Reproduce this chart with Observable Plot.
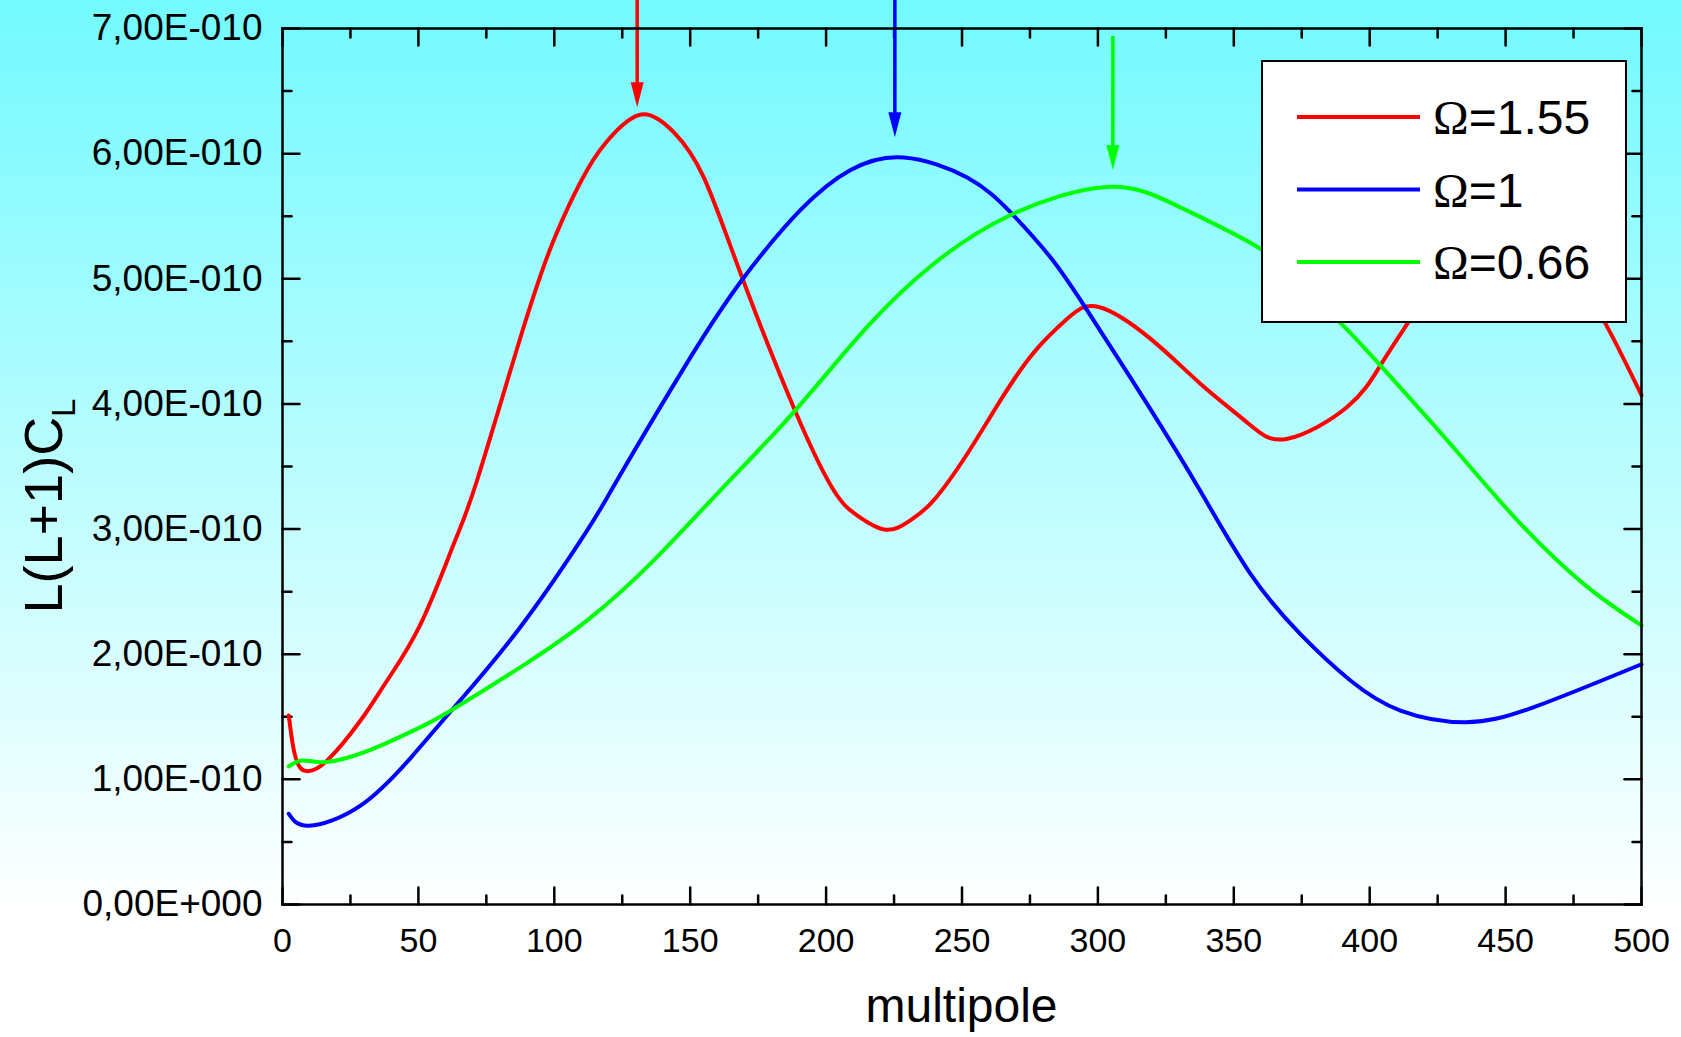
<!DOCTYPE html>
<html>
<head>
<meta charset="utf-8">
<script src="https://cdn.jsdelivr.net/npm/d3@7"></script>
<script src="https://cdn.jsdelivr.net/npm/@observablehq/plot@0.6"></script>
<style>
  html, body { margin: 0; padding: 0; }
  body {
    width: 1681px; height: 1037px; overflow: hidden;
    background: linear-gradient(to bottom, rgb(114,250,255) 0%, #ffffff 88%, #ffffff 100%);
    font-family: "Liberation Sans", Arial, sans-serif;
  }
  #wrap { position: relative; width: 1681px; height: 1037px; }
  #legend {
    position: absolute; left: 1261px; top: 60px; width: 362px; height: 259px;
    background: #fff; border: 2.5px solid #000;
  }
  #legend svg { position: absolute; left: 0; top: 0; }
</style>
</head>
<body>
<div id="wrap"><div id="legend"></div></div>
<script>
// ---- data (y values in units of 1e-10) ----
const UNIT = 1e-10;
const seriesNames = ["Ω=1.55", "Ω=1", "Ω=0.66"];
const seriesColors = ["#ff0000", "#0000ff", "#00ff00"];

const redX = [2.3, 4.2, 6.6, 9.7, 16.4, 28.7, 38.5, 50.8, 63, 71.6, 87.6, 99.8, 112.1, 121.9, 132.7, 144, 155, 169.1, 188.7, 202.8, 211.4, 221.9, 231, 239.6, 251.9, 264.2, 276.4, 288.7, 300.3, 319.4, 337.8, 355, 369.4, 391.7, 404, 413.8, 425, 437, 450, 463, 475, 486.8, 500];
const redY = [1.51, 1.23, 1.09, 1.066, 1.15, 1.47, 1.79, 2.24, 2.88, 3.39, 4.535, 5.31, 5.87, 6.16, 6.315, 6.17, 5.81, 5.01, 3.94, 3.31, 3.11, 2.995, 3.07, 3.23, 3.60, 4.03, 4.41, 4.68, 4.775, 4.52, 4.16, 3.85, 3.72, 3.975, 4.31, 4.64, 5.0, 5.3, 5.45, 5.35, 5.05, 4.64, 4.07];

const blueX = [2.3, 9.7, 28.7, 47.1, 62.4, 87.6, 112.1, 123.1, 148.9, 169.4, 190.6, 209, 228.6, 251.9, 267.9, 282.6, 296, 318.1, 337.8, 356.2, 374.5, 392.9, 411.3, 435.3, 460.4, 500];
const blueY = [0.725, 0.63, 0.79, 1.17, 1.556, 2.22, 2.99, 3.39, 4.33, 5.0, 5.55, 5.87, 5.97, 5.81, 5.53, 5.17, 4.75, 4.0, 3.30, 2.64, 2.16, 1.79, 1.55, 1.457, 1.577, 1.92];

const greenX = [2.3, 7.2, 14, 22.6, 34.8, 50.8, 62.4, 87.6, 112.1, 136.6, 161.1, 188.1, 215.1, 239.6, 267.9, 303.4, 330.4, 359.8, 375, 389.6, 403.4, 429.7, 454.3, 478.8, 500];
const greenY = [1.103, 1.151, 1.137, 1.165, 1.257, 1.417, 1.556, 1.897, 2.27, 2.75, 3.31, 3.935, 4.615, 5.12, 5.51, 5.734, 5.57, 5.24, 4.95, 4.64, 4.32, 3.68, 3.07, 2.56, 2.23];

// peak-marking arrows (x position, top of shaft, tip), y in units of 1e-10
const arrowX = [130.5, 225.3, 305.5];
const arrowTop = [7.23, 7.23, 6.94];
const arrowTip = [6.37, 6.13, 5.87];

// axis ticks
const xMajor = [0, 50, 100, 150, 200, 250, 300, 350, 400, 450, 500];
const xMinor = [25, 75, 125, 175, 225, 275, 325, 375, 425, 475];
const yMajor = [0, 1, 2, 3, 4, 5, 6, 7];
const yMinor = [0.5, 1.5, 2.5, 3.5, 4.5, 5.5, 6.5];
const xLabel = "multipole";

// ---- build tables ----
const seriesX = [redX, blueX, greenX];
const seriesY = [redY, blueY, greenY];
const lines = seriesX.map((xs, s) => xs.map((x, i) => ({x, y: seriesY[s][i] * UNIT})));
const yTicksMajor = yMajor.map(v => v * UNIT);
const yTicksMinor = yMinor.map(v => v * UNIT);
const X0 = 0, X1 = 500, Y0 = 0, Y1 = 7 * UNIT;

const tickShape = { draw(ctx, l) { ctx.moveTo(0, 0); ctx.lineTo(0, -l); } };
const headSymbol = { draw(ctx) { const w = 6.5, h = 25; ctx.moveTo(0, 0); ctx.lineTo(-w, -h); ctx.lineTo(w, -h); ctx.closePath(); } };

function fmtY(v) {
  if (v === 0) return "0,00E+000";
  return (v / UNIT).toFixed(2).replace(".", ",") + "E-010";
}

const tickStyle = {stroke: "black", strokeWidth: 2.5, anchor: "start", shape: tickShape};
const marks = [];
// inward ticks on all four sides
marks.push(Plot.vector(xMajor, {...tickStyle, x: d => d, y: Y0, rotate: 0, length: 17}));
marks.push(Plot.vector(xMinor, {...tickStyle, x: d => d, y: Y0, rotate: 0, length: 9}));
marks.push(Plot.vector(xMajor, {...tickStyle, x: d => d, y: Y1, rotate: 180, length: 17}));
marks.push(Plot.vector(xMinor, {...tickStyle, x: d => d, y: Y1, rotate: 180, length: 9}));
marks.push(Plot.vector(yTicksMajor, {...tickStyle, y: d => d, x: X0, rotate: 90, length: 17}));
marks.push(Plot.vector(yTicksMinor, {...tickStyle, y: d => d, x: X0, rotate: 90, length: 9}));
marks.push(Plot.vector(yTicksMajor, {...tickStyle, y: d => d, x: X1, rotate: -90, length: 17}));
marks.push(Plot.vector(yTicksMinor, {...tickStyle, y: d => d, x: X1, rotate: -90, length: 9}));

// curves
lines.forEach((rows, s) => {
  marks.push(Plot.line(rows, {x: "x", y: "y", stroke: seriesColors[s], strokeWidth: 4, curve: "natural"}));
});

// arrows
arrowX.forEach((ax, i) => {
  const row = [{x: ax, top: arrowTop[i] * UNIT, tip: arrowTip[i] * UNIT}];
  marks.push(Plot.link(row, {x1: "x", x2: "x", y1: "top", y2: d => d.tip + 10 * UNIT / 125, stroke: seriesColors[i], strokeWidth: 3.5}));
  marks.push(Plot.dot(row, {x: "x", y: "tip", symbol: headSymbol, fill: seriesColors[i], stroke: "none", r: 5}));
});

marks.push(Plot.frame({stroke: "black", strokeWidth: 2.5}));
marks.push(Plot.axisX({ticks: xMajor, tickSize: 0, tickPadding: 23, fontSize: 34, label: null, tickFormat: d => String(d)}));
marks.push(Plot.axisY({ticks: yTicksMajor, tickSize: 0, tickPadding: 20, fontSize: 37, label: null, tickFormat: fmtY}));

const chart = Plot.plot({
  width: 1681,
  height: 1037,
  marginLeft: 282,
  marginRight: 40,
  marginTop: 28,
  marginBottom: 133,
  x: {domain: [X0, X1]},
  y: {domain: [Y0, Y1]},
  style: {background: "transparent", fontFamily: "'Liberation Sans', Arial, sans-serif", color: "black", overflow: "visible"},
  marks
});

const wrap = document.getElementById("wrap");
chart.style.position = "absolute";
chart.style.left = "0px";
chart.style.top = "0px";
wrap.insertBefore(chart, wrap.firstChild);

// axis titles
const svg = d3.select(chart);
svg.append("text")
  .attr("x", 961.5).attr("y", 1022)
  .attr("text-anchor", "middle")
  .attr("font-size", 48)
  .attr("fill", "black")
  .text(xLabel);
const yl = svg.append("text")
  .attr("transform", "translate(62,506) rotate(-90)")
  .attr("text-anchor", "middle")
  .attr("font-size", 54)
  .attr("fill", "black");
yl.append("tspan").text("L(L+1)C");
yl.append("tspan").attr("font-size", 33).attr("dy", 13).text("L");

// legend
const leg = d3.select("#legend").append("svg").attr("width", 362).attr("height", 259);
seriesNames.forEach((name, i) => {
  const cy = 55 + i * 72.5;
  leg.append("line").attr("x1", 34).attr("x2", 157).attr("y1", cy).attr("y2", cy)
    .attr("stroke", seriesColors[i]).attr("stroke-width", 4);
  const t = leg.append("text").attr("x", 170).attr("y", cy + 17).attr("font-size", 48).attr("fill", "black")
    .attr("font-family", "'Liberation Sans', Arial, sans-serif");
  t.append("tspan").attr("font-family", "'Liberation Serif', 'Times New Roman', serif").text(name.slice(0, 1));
  t.append("tspan").text(name.slice(1));
});
</script>
</body>
</html>
